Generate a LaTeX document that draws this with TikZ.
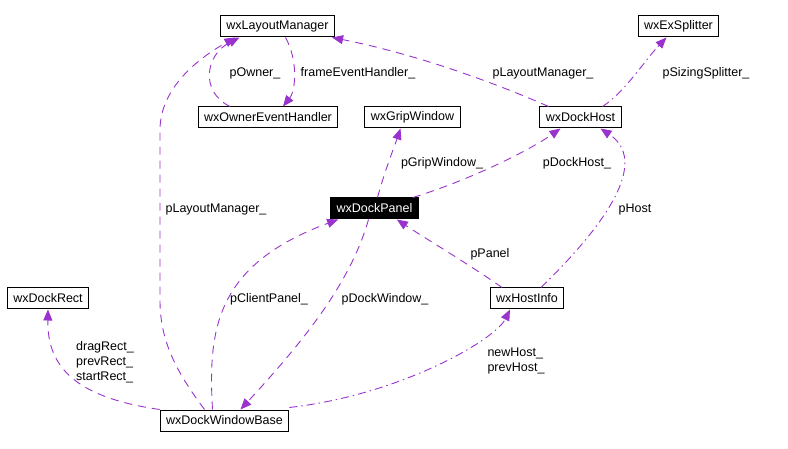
\documentclass[tikz,border=0pt]{standalone}
\usepackage{fontspec}
\setmainfont{Liberation Sans}
\usetikzlibrary{arrows.meta}
\definecolor{edgePurple}{HTML}{9A32CD}

\begin{document}
\begin{tikzpicture}[x=1pt, y=-1pt,
    cls/.style={draw, line width=1pt, font=\fontsize{12.5}{15}\selectfont, minimum height=21pt, inner xsep=6pt, inner ysep=0pt},
    focus/.style={cls, fill=black, text=white},
    lbl/.style={font=\fontsize{12.5}{15}\selectfont, inner sep=0pt},
    use/.style={-{Triangle[length=11pt, width=9pt]}, edgePurple, line width=0.9pt, dash pattern=on 8pt off 6pt},
    usedot/.style={use, dash pattern=on 8pt off 4pt on 1.5pt off 4pt}]
    \useasboundingbox (0,0) rectangle (788,449);
    % classes
    \node[cls] (layout) at (277.5,26.5) {wxLayoutManager};
    \node[cls] (splitter) at (678.5,26.5) {wxExSplitter};
    \node[cls] (owner) at (268,117.5) {wxOwnerEventHandler};
    \node[cls] (grip) at (412.5,117.5) {wxGripWindow};
    \node[cls] (host) at (580.5,117.5) {wxDockHost};
    \node[focus] (panel) at (374.5,208.5) {wxDockPanel};
    \node[cls] (rect) at (48,298.5) {wxDockRect};
    \node[cls] (info) at (527,298.5) {wxHostInfo};
    \node[cls] (base) at (224.5,420.5) {wxDockWindowBase};
    % usage edges
    \draw[use] ([xshift=-32pt]host.north) .. controls (500,85) and (420,55) .. ([xshift=-3pt]layout.south east);
    \draw[usedot] ([xshift=22pt]host.north) .. controls (625,92) and (645,60) .. ([xshift=-12pt]splitter.south);
    \draw[use] ([xshift=8pt]layout.south) .. controls (298,60) and (296,90) .. ([xshift=15pt]owner.north);
    \draw[use] ([xshift=-38pt]owner.north) .. controls (200,92) and (205,55) .. ([xshift=-38pt]layout.south);
    \draw[use] ([xshift=-20pt]base.north) .. controls (175,370) and (160,340) .. (160,300)
        -- (160,130) .. controls (160,90) and (195,60) .. ([xshift=-42pt]layout.south);
    \draw[use] ([xshift=3pt]panel.north) .. controls (385,170) and (395,145) .. ([xshift=-12pt]grip.south);
    \draw[use] ([xshift=-6pt]panel.north east) .. controls (470,180) and (530,150) .. ([xshift=-20pt]host.south);
    \draw[usedot] ([xshift=14pt]info.north) .. controls (590,240) and (655,165) .. ([xshift=20pt]host.south);
    \draw[use] ([xshift=-25pt]info.north) .. controls (470,265) and (420,235) .. ([xshift=-22pt]panel.south east);
    \draw[use] ([xshift=-12pt]base.north) .. controls (208,330) and (215,265) .. ([xshift=8pt]panel.south west);
    \draw[use] ([xshift=-6pt]panel.south) .. controls (350,285) and (300,345) .. ([xshift=16pt]base.north);
    \draw[use] (base.north west) .. controls (80,398) and (47,370) .. (rect.south);
    \draw[usedot] ([yshift=2pt]base.north east) .. controls (400,395) and (495,340) .. ([xshift=-17pt]info.south);
    % member labels
    \node[lbl] (lLayoutHost) at (543,73) {pLayoutManager\_};
    \node[lbl] (lSplitter) at (706,73) {pSizingSplitter\_};
    \node[lbl] (lOwner) at (255,73) {pOwner\_};
    \node[lbl] (lFrame) at (358,73) {frameEventHandler\_};
    \node[lbl] (lLayoutBase) at (216,209) {pLayoutManager\_};
    \node[lbl] (lGrip) at (442,163) {pGripWindow\_};
    \node[lbl] (lDockHost) at (577,163) {pDockHost\_};
    \node[lbl] (lHost) at (635,209) {pHost};
    \node[lbl] (lPanel) at (490,254) {pPanel};
    \node[lbl] (lClient) at (269,299) {pClientPanel\_};
    \node[lbl] (lDockWin) at (385,299) {pDockWindow\_};
    \node[lbl, align=left] (lRects) at (105,362) {dragRect\_\\prevRect\_\\startRect\_};
    \node[lbl, align=left] (lNewHost) at (516,361) {newHost\_\\prevHost\_};
\end{tikzpicture}
\end{document}
